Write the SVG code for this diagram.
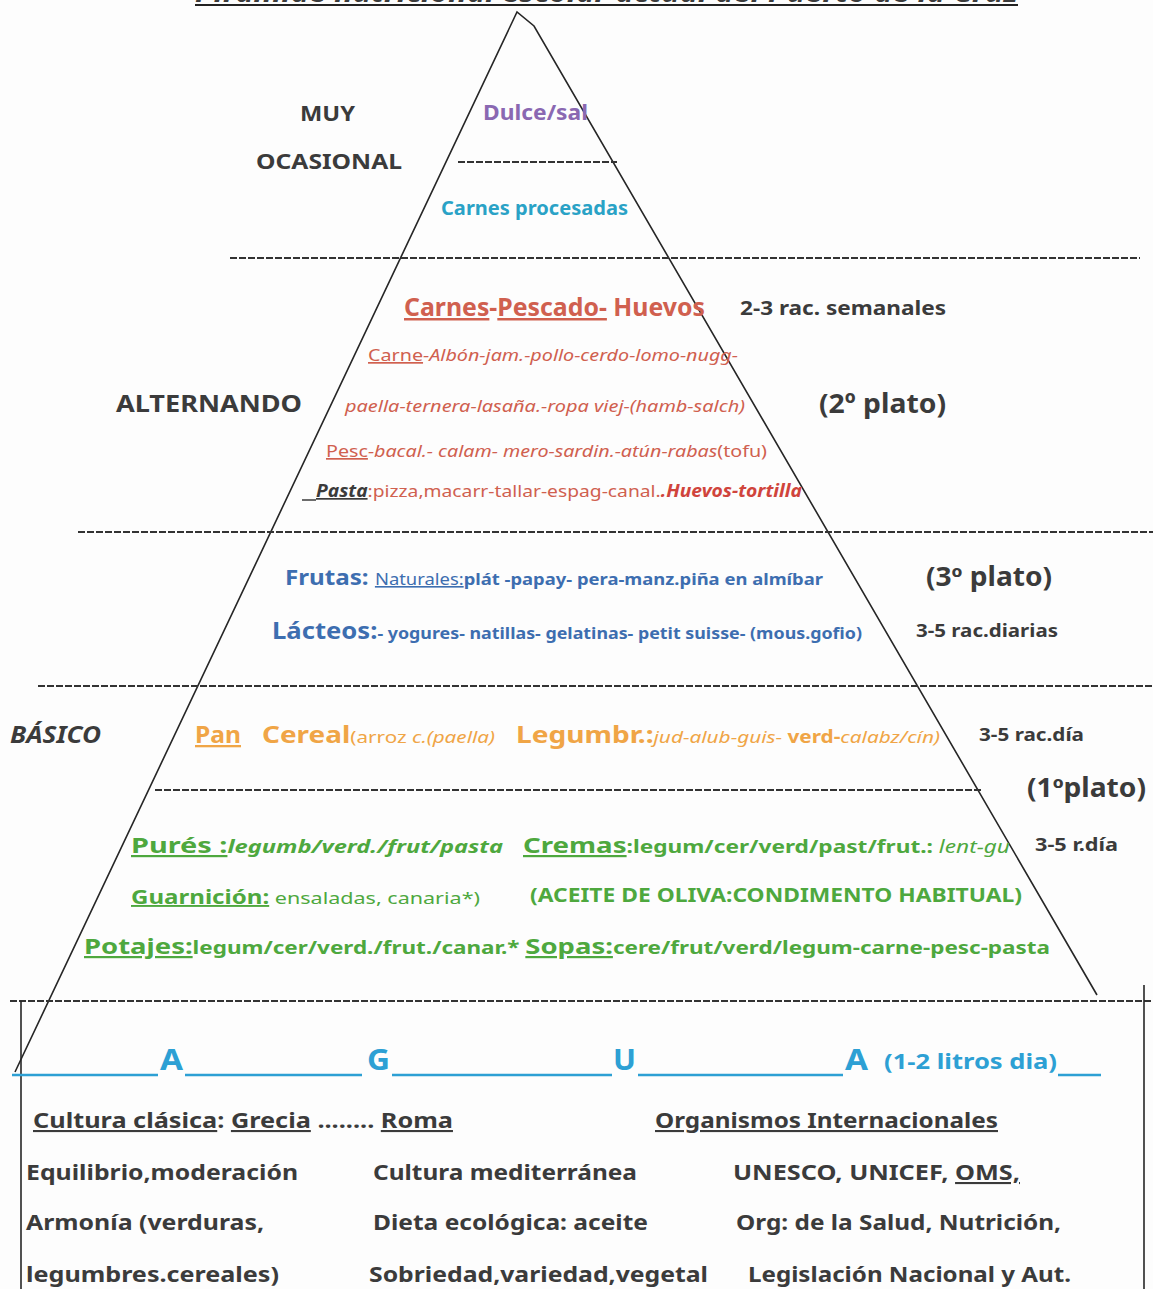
<svg xmlns="http://www.w3.org/2000/svg" width="1153" height="1289" viewBox="0 0 1153 1289">
<defs>
<style>
text{font-family:"Noto Sans","Open Sans","Liberation Sans",sans-serif;font-weight:bold}
.dk{fill:#3b3b3b}
.pu{fill:#8a68b2}
.cy{fill:#2aa2c6}
.rd{fill:#d0604f}
.bl{fill:#3d6eb0}
.or{fill:#f0a546}
.gr{fill:#4ea83e}
.aq{fill:#2da0d4}
.it{font-style:italic}
.nb{font-weight:normal}
.u{text-decoration:underline}
.ln{stroke:#262626;stroke-width:1.6;fill:none}
.ds{stroke:#333;stroke-width:2.2;stroke-dasharray:7 2;fill:none}
.ag{stroke:#2da0d4;stroke-width:2.5}
</style>
</defs>
<rect width="1153" height="1289" fill="#fdfdfd"/>
<g id="title">
<text x="195" y="2" font-size="28" class="it dk" textLength="823" lengthAdjust="spacingAndGlyphs">Pirámide nutricional escolar actual del Puerto de la Cruz</text>
<line x1="195" y1="5" x2="1018" y2="5" stroke="#222" stroke-width="2"/>
</g>
<g id="connectors">
<polyline class="ln" points="15,1072 517,12 534,26 1097,995"/>
<line class="ds" x1="458" y1="162" x2="617" y2="162"/>
<line class="ds" x1="230" y1="258" x2="1140" y2="258"/>
<line class="ds" x1="78" y1="532" x2="1153" y2="532"/>
<line class="ds" x1="38" y1="686" x2="1153" y2="686"/>
<line class="ds" x1="155" y1="790" x2="981" y2="790" stroke-dasharray="3 1" stroke-width="1.6"/>
<line class="ds" x1="10" y1="1001" x2="1153" y2="1001"/>
<line class="ln" x1="21" y1="1001" x2="21" y2="1289"/>
<line class="ln" x1="1144" y1="985" x2="1144" y2="1289"/>
</g>
<g id="muy-ocasional">
<text x="300" y="121" font-size="22" class="dk" textLength="55" lengthAdjust="spacingAndGlyphs">MUY</text>
<text x="256" y="169" font-size="22" class="dk" textLength="146" lengthAdjust="spacingAndGlyphs">OCASIONAL</text>
<text x="483" y="120" font-size="21" class="pu" textLength="105" lengthAdjust="spacingAndGlyphs">Dulce/sal</text>
<text x="441" y="215" font-size="19" class="cy" textLength="187" lengthAdjust="spacingAndGlyphs">Carnes procesadas</text>
</g>
<g id="alternando">
<text x="404" y="316" font-size="25" class="rd" textLength="301" lengthAdjust="spacingAndGlyphs"><tspan class="u">Carnes</tspan>-<tspan class="u">Pescado-</tspan> Huevos</text>
<text x="740" y="315" font-size="20" class="dk" textLength="206" lengthAdjust="spacingAndGlyphs">2-3 rac. semanales</text>
<text x="368" y="361" font-size="17" class="rd nb" textLength="370" lengthAdjust="spacingAndGlyphs"><tspan class="u">Carne</tspan><tspan class="it">-Albón-jam.-pollo-cerdo-lomo-nugg-</tspan></text>
<text x="116" y="412" font-size="24" class="dk" textLength="186" lengthAdjust="spacingAndGlyphs">ALTERNANDO</text>
<text x="345" y="412" font-size="17" class="rd nb it" textLength="400" lengthAdjust="spacingAndGlyphs">paella-ternera-lasaña.-ropa viej-(hamb-salch)</text>
<text x="819" y="413" font-size="27" class="dk" textLength="127" lengthAdjust="spacingAndGlyphs">(2º plato)</text>
<text x="326" y="457" font-size="17" class="rd nb" textLength="441" lengthAdjust="spacingAndGlyphs"><tspan class="u">Pesc</tspan><tspan class="it">-bacal.- calam- mero-sardin.-atún-rabas</tspan>(tofu)</text>
<line x1="302" y1="500" x2="316" y2="500" stroke="#3b3b3b" stroke-width="1.5"/>
<text x="316" y="497" font-size="17" class="rd nb" textLength="486" lengthAdjust="spacingAndGlyphs"><tspan class="dk u it" font-weight="bold">Pasta</tspan>:pizza,macarr-tallar-espag-canal.<tspan class="it" font-weight="bold" fill="#d0443c">.Huevos-tortilla</tspan></text>
</g>
<g id="postre">
<text x="285" y="585" font-size="21" class="bl" textLength="538" lengthAdjust="spacingAndGlyphs">Frutas: <tspan font-size="16" font-weight="normal" class="u">Naturales:</tspan><tspan font-size="16">plát -papay- pera-manz.piña en almíbar</tspan></text>
<text x="926" y="586" font-size="26" class="dk" textLength="126" lengthAdjust="spacingAndGlyphs">(3º plato)</text>
<text x="272" y="639" font-size="23" class="bl" textLength="590" lengthAdjust="spacingAndGlyphs">Lácteos:<tspan font-size="16">- yogures- natillas- gelatinas- petit suisse- (mous.gofio)</tspan></text>
<text x="916" y="637" font-size="18" class="dk" textLength="142" lengthAdjust="spacingAndGlyphs">3-5 rac.diarias</text>
</g>
<g id="basico">
<text x="10" y="743" font-size="23" class="dk it" textLength="91" lengthAdjust="spacingAndGlyphs">BÁSICO</text>
<text x="195" y="743" font-size="23" class="or u" textLength="46" lengthAdjust="spacingAndGlyphs">Pan</text>
<text x="262" y="743" font-size="23" class="or" textLength="233" lengthAdjust="spacingAndGlyphs">Cereal<tspan font-size="17" font-weight="normal">(arroz <tspan class="it">c.(paella)</tspan></tspan></text>
<text x="516" y="743" font-size="23" class="or" textLength="424" lengthAdjust="spacingAndGlyphs">Legumbr.:<tspan font-size="17" font-weight="normal" class="it">jud-alub-guis- </tspan><tspan font-size="17">verd-</tspan><tspan font-size="17" font-weight="normal" class="it">calabz/cín)</tspan></text>
<text x="979" y="741" font-size="18" class="dk" textLength="105" lengthAdjust="spacingAndGlyphs">3-5 rac.día</text>
<text x="1027" y="797" font-size="26" class="dk" textLength="119" lengthAdjust="spacingAndGlyphs">(1ºplato)</text>
<text x="131" y="853" font-size="22" class="gr" textLength="372" lengthAdjust="spacingAndGlyphs"><tspan class="u">Purés :</tspan><tspan font-size="18" class="it">legumb/verd./frut/pasta</tspan></text>
<text x="523" y="853" font-size="22" class="gr" textLength="487" lengthAdjust="spacingAndGlyphs"><tspan class="u">Cremas</tspan><tspan font-size="18">:legum/cer/verd/past/frut.: </tspan><tspan font-size="18" font-weight="normal" class="it">lent-gu</tspan></text>
<text x="1035" y="851" font-size="17" class="dk" textLength="83" lengthAdjust="spacingAndGlyphs">3-5 r.día</text>
<text x="131" y="904" font-size="19" class="gr" textLength="349" lengthAdjust="spacingAndGlyphs"><tspan class="u">Guarnición:</tspan><tspan font-weight="normal" font-size="17"> ensaladas, canaria*)</tspan></text>
<text x="530" y="902" font-size="19" class="gr" textLength="492" lengthAdjust="spacingAndGlyphs">(ACEITE DE OLIVA:CONDIMENTO HABITUAL)</text>
<text x="84" y="954" font-size="22" class="gr" textLength="966" lengthAdjust="spacingAndGlyphs"><tspan class="u">Potajes:</tspan><tspan font-size="18">legum/cer/verd./frut./canar.* </tspan><tspan class="u">Sopas:</tspan><tspan font-size="18">cere/frut/verd/legum-carne-pesc-pasta</tspan></text>
</g>
<g id="agua">
<line class="ag" x1="12" y1="1075" x2="158" y2="1075"/>
<line class="ag" x1="185" y1="1075" x2="362" y2="1075"/>
<line class="ag" x1="392" y1="1075" x2="612" y2="1075"/>
<line class="ag" x1="638" y1="1075" x2="843" y2="1075"/>
<line class="ag" x1="1058" y1="1075" x2="1101" y2="1075"/>
<text x="160" y="1070" font-size="28" class="aq" textLength="23" lengthAdjust="spacingAndGlyphs">A</text>
<text x="367" y="1070" font-size="28" class="aq" textLength="23" lengthAdjust="spacingAndGlyphs">G</text>
<text x="613" y="1070" font-size="28" class="aq" textLength="23" lengthAdjust="spacingAndGlyphs">U</text>
<text x="845" y="1070" font-size="28" class="aq" textLength="23" lengthAdjust="spacingAndGlyphs">A</text>
<text x="884" y="1069" font-size="21" class="aq" textLength="173" lengthAdjust="spacingAndGlyphs">(1-2 litros dia)</text>
</g>
<g id="cultura">
<text x="33" y="1128" font-size="21" class="dk" textLength="420" lengthAdjust="spacingAndGlyphs"><tspan class="u">Cultura clásica</tspan>: <tspan class="u">Grecia</tspan> ........ <tspan class="u">Roma </tspan></text>
<text x="655" y="1128" font-size="21" class="dk u" textLength="343" lengthAdjust="spacingAndGlyphs">Organismos Internacionales</text>
<text x="26" y="1180" font-size="21" class="dk" textLength="272" lengthAdjust="spacingAndGlyphs">Equilibrio,moderación</text>
<text x="373" y="1180" font-size="21" class="dk" textLength="264" lengthAdjust="spacingAndGlyphs">Cultura mediterránea</text>
<text x="733" y="1180" font-size="21" class="dk" textLength="287" lengthAdjust="spacingAndGlyphs">UNESCO, UNICEF, <tspan class="u">OMS,</tspan></text>
<text x="26" y="1230" font-size="21" class="dk" textLength="238" lengthAdjust="spacingAndGlyphs">Armonía (verduras,</text>
<text x="373" y="1230" font-size="21" class="dk" textLength="275" lengthAdjust="spacingAndGlyphs">Dieta ecológica: aceite</text>
<text x="736" y="1230" font-size="21" class="dk" textLength="325" lengthAdjust="spacingAndGlyphs">Org: de la Salud, Nutrición,</text>
<text x="26" y="1282" font-size="21" class="dk" textLength="253" lengthAdjust="spacingAndGlyphs">legumbres.cereales)</text>
<text x="369" y="1282" font-size="21" class="dk" textLength="339" lengthAdjust="spacingAndGlyphs">Sobriedad,variedad,vegetal</text>
<text x="748" y="1282" font-size="21" class="dk" textLength="323" lengthAdjust="spacingAndGlyphs">Legislación Nacional y Aut.</text>
</g>
</svg>
